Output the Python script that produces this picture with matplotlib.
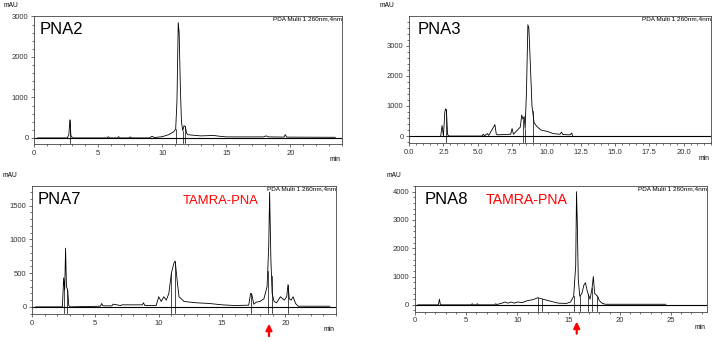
import numpy as np
import matplotlib
matplotlib.use("Agg")
import matplotlib.pyplot as plt
from matplotlib.ticker import MultipleLocator, FormatStrFormatter

plt.rcParams['font.family'] = ['Liberation Sans', 'DejaVu Sans']

# traced chromatograms (time in min, signal in mAU)
pna2_t = [0.3, 2.6, 2.72, 2.8, 2.88, 3.0, 5.7, 5.8, 5.9, 6.5, 6.6, 6.7, 7.4, 7.5, 7.6, 9.0, 9.2, 9.4,
          10.0, 10.5, 10.9, 11.05, 11.15, 11.25, 11.32, 11.42, 11.5, 11.6, 11.7, 11.8, 11.9, 12.0,
          12.3, 13.0, 14.0, 14.5, 15.0, 17.9, 18.1, 18.3, 19.5, 19.6, 19.7, 23.5]
pna2_y = [0, 0, 80, 450, 60, 0, 0, 30, 0, 0, 30, 0, 0, 25, 0, 0, 40, 10,
          30, 80, 150, 220, 900, 2850, 2600, 1200, 400, 180, 300, 280, 120, 80,
          70, 50, 60, 40, 25, 25, 50, 25, 20, 80, 20, 15]

pna3_t = [2.3, 2.4, 2.5, 2.6, 2.65, 2.72, 2.8, 2.9, 5.3, 5.4, 5.5, 5.7, 5.8, 6.25, 6.35, 6.45, 7.4,
          7.5, 7.6, 8.1, 8.2, 8.3, 8.38, 8.45, 8.55, 8.65, 8.72, 8.82, 8.95, 9.1, 9.3, 9.6, 9.8,
          10.1, 10.5, 11.0, 11.1, 11.2, 11.7, 11.85, 11.9]
pna3_y = [0, 350, 0, 800, 900, 850, 50, 0, 0, 60, 10, 80, 20, 380, 60, 40, 60,
          250, 60, 300, 700, 550, 650, 250, 1500, 3700, 3600, 2500, 1000, 450, 320, 200, 180,
          150, 80, 60, 130, 50, 40, 100, 0]

pna7_t = [0.3, 2.4, 2.5, 2.58, 2.65, 2.72, 2.82, 2.9, 3.0, 5.4, 5.5, 5.6, 6.3, 6.4, 7.0, 7.1, 8.7,
          8.8, 8.9, 9.8, 10.0, 10.2, 10.4, 10.6, 10.8, 11.0, 11.2, 11.3, 11.45, 11.6, 12.0, 13.0,
          14.0, 15.0, 16.0, 17.1, 17.25, 17.35, 17.5, 17.7, 18.0, 18.3, 18.55, 18.68, 18.75, 18.85,
          18.95, 19.1, 19.3, 19.6, 19.9, 20.1, 20.2, 20.3, 20.45, 20.6, 20.8, 21.0, 23.5]
pna7_y = [0, 0, 430, 250, 870, 300, 250, 20, 0, 10, 50, 15, 15, 40, 20, 30, 30,
          60, 20, 20, 150, 80, 150, 100, 200, 500, 650, 680, 400, 150, 80, 60,
          50, 30, 20, 25, 200, 180, 40, 70, 80, 120, 300, 900, 1700, 700,
          200, 80, 60, 150, 100, 150, 330, 120, 100, 150, 50, 10, 10]

pna8_t = [0.3, 2.3, 2.4, 2.5, 5.5, 5.6, 5.7, 6.0, 6.1, 6.2, 7.8, 7.9, 8.0, 8.5, 8.8, 9.1, 9.4, 9.7,
          10.0, 10.5, 11.0, 11.5, 12.0, 12.5, 13.0, 14.0, 14.8, 15.2, 15.5, 15.7, 15.78, 15.85,
          15.95, 16.1, 16.3, 16.5, 16.65, 16.85, 17.1, 17.3, 17.42, 17.55, 17.7, 17.85, 18.0,
          18.3, 18.6, 24.5]
pna8_y = [0, 0, 200, 0, 0, 40, 0, 0, 40, 0, 0, 40, 10, 60, 100, 60, 100, 60,
          100, 80, 150, 180, 250, 200, 150, 60, 50, 100, 300, 1400, 4000, 3000,
          900, 300, 400, 700, 780, 450, 200, 600, 1000, 400, 350, 300, 150,
          50, 20, 20]

# integration marks (drop lines)
pna2_marks = [2.8, 11.05, 11.6, 11.75]
pna3_marks = [2.65, 8.3, 8.45, 9.0]
pna7_marks = [2.55, 2.8, 11.0, 11.25, 17.25, 18.6, 18.9, 20.2]
pna8_marks = [12.0, 12.4, 15.5, 16.1, 16.9, 17.3, 17.8]

panels = [
    dict(name="PNA2", t=pna2_t, y=pna2_y, marks=pna2_marks,
         rect=[0.0476, 0.579, 0.431, 0.374], xlim=(0, 24), ylim=(-150, 3010),
         xmaj=5, ymaj=1000, fmt="%d", lx=0.018, tag=None, arrow=None),
    dict(name="PNA3", t=pna3_t, y=pna3_y, marks=pna3_marks,
         rect=[0.573, 0.582, 0.423, 0.371], xlim=(0, 22), ylim=(-230, 3990),
         xmaj=2.5, ymaj=1000, fmt="%.1f", lx=0.027, tag=None, arrow=None),
    dict(name="PNA7", t=pna7_t, y=pna7_y, marks=pna7_marks,
         rect=[0.0448, 0.082, 0.426, 0.374], xlim=(0, 24), ylim=(-105, 1790),
         xmaj=5, ymaj=500, fmt="%d", lx=0.02, tag=(0.497, 9.4), arrow=18.7),
    dict(name="PNA8", t=pna8_t, y=pna8_y, marks=pna8_marks,
         rect=[0.581, 0.088, 0.409, 0.368], xlim=(0, 28.5), ylim=(-250, 4200),
         xmaj=5, ymaj=1000, fmt="%d", lx=0.034, tag=(0.243, 10.2), arrow=15.8),
]

fig = plt.figure(figsize=(7.14, 3.42), dpi=100)

for p in panels:
    ax = fig.add_axes(p["rect"])
    ax.plot(p["t"], p["y"], color="black", lw=0.6)
    ax.axhline(0, color="black", lw=0.8)
    for m in p["marks"]:
        top = np.interp(m, p["t"], p["y"])
        ax.plot([m, m], [p["ylim"][0] * 0.9, top], color="black", lw=0.5)
    ax.set_xlim(*p["xlim"])
    ax.set_ylim(*p["ylim"])
    ax.xaxis.set_major_locator(MultipleLocator(p["xmaj"]))
    ax.xaxis.set_minor_locator(MultipleLocator(p["xmaj"] / 5))
    ax.yaxis.set_major_locator(MultipleLocator(p["ymaj"]))
    ax.yaxis.set_minor_locator(MultipleLocator(p["ymaj"] / 5))
    ax.xaxis.set_major_formatter(FormatStrFormatter(p["fmt"]))
    ax.tick_params(labelsize=5.5, length=2.5, width=0.5, pad=1.5, colors="#333333")
    ax.tick_params(which="minor", length=1.2, width=0.4)
    for s in ax.spines.values():
        s.set_linewidth(0.6)
        s.set_color("#444444")
    ax.text(p["lx"], 0.955, p["name"], transform=ax.transAxes, fontsize=12,
            ha="left", va="top")
    ax.text(1.0, 0.995, "PDA Multi 1 260nm,4nm", transform=ax.transAxes,
            fontsize=4.6, ha="right", va="top")
    ax.text(-0.098, 1.085, "mAU", transform=ax.transAxes, fontsize=4.8,
            ha="left", va="center")
    ax.text(0.977, -0.12, "min", transform=ax.transAxes, fontsize=4.8,
            ha="center", va="center")
    if p["tag"] is not None:
        ax.text(p["tag"][0], 0.86, "TAMRA-PNA", transform=ax.transAxes,
                color="red", fontsize=p["tag"][1], ha="left")
    if p["arrow"] is not None:
        ax.annotate("", xy=(p["arrow"], -0.055), xytext=(p["arrow"], -0.195),
                    xycoords=("data", "axes fraction"),
                    textcoords=("data", "axes fraction"),
                    arrowprops=dict(arrowstyle="-|>", color="red", lw=1.6,
                                    mutation_scale=9))

fig.savefig("out.png", dpi=100)
